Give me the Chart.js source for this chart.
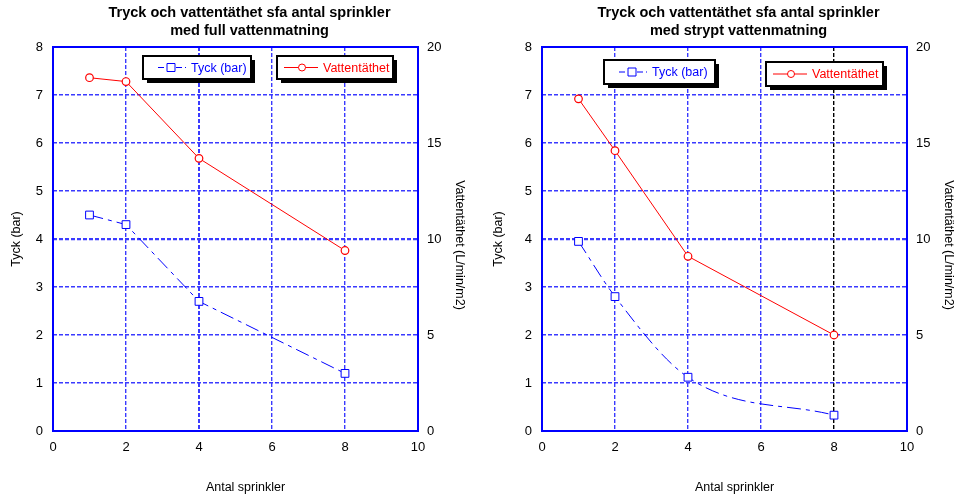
<!DOCTYPE html>
<html>
<head>
<meta charset="utf-8">
<script src="https://cdn.jsdelivr.net/npm/chart.js@4"></script>
<style>
  body { margin: 0; background: #fff; }
  canvas { position: absolute; top: 0; }
  #fullChart { left: 0; }
  #stryptChart { left: 482px; }
</style>
</head>
<body>
<canvas id="fullChart" width="482" height="499"></canvas>
<canvas id="stryptChart" width="483" height="499"></canvas>
<script>
// data
const sprinkler = [1, 2, 4, 8];
const fullTryck = [4.5, 4.3, 2.7, 1.2];
const fullVatten = [18.4, 18.2, 14.2, 9.4];
const stryptTryck = [3.95, 2.8, 1.12, 0.33];
const stryptVatten = [17.3, 14.6, 9.1, 5.0];

const xTicks = [0, 2, 4, 6, 8, 10];
const yTicks = [0, 1, 2, 3, 4, 5, 6, 7, 8];
const y1Ticks = [0, 5, 10, 15, 20];

const FONT = "'Liberation Sans', Arial, sans-serif";
const BLUE = "#0000ff";
const GRID = "#3a3aff";
const RED = "#ff0000";

function pts(xs, ys) {
  return xs.map((x, i) => ({ x: x, y: ys[i] }));
}

// titles, legend boxes, frame
const decorPlugin = {
  id: "decor",
  afterDraw(chart, args, opts) {
    const { ctx, chartArea: a } = chart;
    ctx.save();

    // frame
    ctx.strokeStyle = BLUE;
    ctx.lineWidth = 2;
    ctx.setLineDash([]);
    ctx.strokeRect(a.left, a.top, a.right - a.left, a.bottom - a.top);

    // title
    ctx.fillStyle = "#000";
    ctx.textAlign = "center";
    ctx.textBaseline = "middle";
    ctx.font = "bold 14.5px " + FONT;
    const cx = (a.left + a.right) / 2 + 14;
    ctx.fillText(opts.title[0], cx, 13);
    ctx.fillText(opts.title[1], cx, 31);

    // axis titles
    ctx.font = "12.5px " + FONT;
    ctx.fillText("Antal sprinkler", (a.left + a.right) / 2 + 10, 488);
    const cy = (a.top + a.bottom) / 2;
    ctx.save();
    ctx.translate(17, cy);
    ctx.rotate(-Math.PI / 2);
    ctx.fillText("Tyck (bar)", 0, 0);
    ctx.restore();
    ctx.save();
    ctx.translate(a.right + 41, cy + 6);
    ctx.rotate(Math.PI / 2);
    ctx.fillText("Vattentäthet (L/min/m2)", 0, 0);
    ctx.restore();

    // legend boxes
    opts.legend.forEach(b => {
      ctx.fillStyle = "#000";
      ctx.fillRect(b.x + 4, b.y + 4, b.w, b.h);
      ctx.fillStyle = "#fff";
      ctx.fillRect(b.x, b.y, b.w, b.h);
      ctx.strokeStyle = "#000";
      ctx.lineWidth = 2;
      ctx.strokeRect(b.x, b.y, b.w, b.h);
      const my = b.y + b.h / 2;
      ctx.strokeStyle = b.color;
      ctx.lineWidth = 1;
      ctx.setLineDash(b.dash);
      ctx.beginPath();
      ctx.moveTo(b.x + b.l0, my);
      ctx.lineTo(b.x + b.l1, my);
      ctx.stroke();
      ctx.setLineDash([]);
      ctx.fillStyle = "#fff";
      ctx.beginPath();
      if (b.marker === "rect") ctx.rect(b.x + b.m - 4, my - 4, 8, 8);
      else ctx.arc(b.x + b.m, my, 3.5, 0, Math.PI * 2);
      ctx.fill();
      ctx.stroke();
      ctx.fillStyle = b.color;
      ctx.textAlign = "left";
      ctx.font = "12.5px " + FONT;
      ctx.fillText(b.text, b.x + b.t, my + 1);
    });
    ctx.restore();
  }
};

function makeChart(id, tryck, vatten, cfg) {
  new Chart(document.getElementById(id), {
    type: "line",
    data: {
      datasets: [
        {
          label: "Tyck (bar)",
          data: pts(sprinkler, tryck),
          yAxisID: "y",
          borderColor: BLUE,
          borderWidth: 1,
          borderDash: [14, 5, 4, 5],
          pointStyle: "rect",
          pointRadius: 5.5,
          pointBackgroundColor: "#fff",
          pointBorderColor: BLUE,
          pointBorderWidth: 1,
          cubicInterpolationMode: cfg.smooth ? "monotone" : "default",
          tension: 0
        },
        {
          label: "Vattentäthet",
          data: pts(sprinkler, vatten),
          yAxisID: "y1",
          borderColor: RED,
          borderWidth: 1,
          pointStyle: "circle",
          pointRadius: 3.8,
          pointBackgroundColor: "#fff",
          pointBorderColor: RED,
          pointBorderWidth: 1.2,
          tension: 0
        }
      ]
    },
    options: {
      responsive: false,
      animation: false,
      devicePixelRatio: 1,
      layout: { padding: { top: 47, left: 0, right: 0, bottom: 0 } },
      plugins: {
        legend: { display: false },
        tooltip: { enabled: false },
        decor: { title: cfg.title, legend: cfg.legend }
      },
      scales: {
        x: {
          type: "linear",
          min: 0,
          max: 10,
          afterBuildTicks: s => { s.ticks = xTicks.map(v => ({ value: v })); },
          afterFit: s => { s.height = 68; },
          ticks: { color: "#000", padding: 9, font: { family: FONT, size: 13 } },
          grid: {
            color: c => (c.tick && c.tick.value === cfg.blackX ? "#000" : GRID),
            lineWidth: c => (c.tick && c.tick.value === cfg.boldX ? 2 : 1.4),
            drawTicks: false
          },
          border: { display: false, dash: [4, 2] }
        },
        y: {
          position: "left",
          min: 0,
          max: 8,
          afterBuildTicks: s => { s.ticks = yTicks.map(v => ({ value: v })); },
          afterFit: s => { s.width = cfg.leftW; },
          ticks: { color: "#000", padding: 10, font: { family: FONT, size: 13 } },
          grid: {
            color: GRID,
            lineWidth: c => (c.tick && c.tick.value === 4 ? 2.2 : 1.4),
            drawTicks: false
          },
          border: { display: false, dash: [4, 2] }
        },
        y1: {
          position: "right",
          min: 0,
          max: 20,
          afterBuildTicks: s => { s.ticks = y1Ticks.map(v => ({ value: v })); },
          afterFit: s => { s.width = cfg.rightW; },
          ticks: { color: "#000", padding: 9, font: { family: FONT, size: 13 } },
          grid: { display: false, drawTicks: false },
          border: { display: false }
        }
      }
    },
    plugins: [decorPlugin]
  });
}

makeChart("fullChart", fullTryck, fullVatten, {
  title: ["Tryck och vattentäthet sfa antal sprinkler", "med full vattenmatning"],
  leftW: 53,
  rightW: 64,
  smooth: false,
  blackX: null,
  boldX: 4,
  legend: [
    { x: 143, y: 56, w: 108, h: 23, color: BLUE, dash: [6, 3], marker: "rect", l0: 15, l1: 43, m: 28, t: 48, text: "Tyck (bar)" },
    { x: 277, y: 56, w: 116, h: 23, color: RED, dash: [], marker: "circle", l0: 7, l1: 41, m: 25, t: 46, text: "Vattentäthet" }
  ]
});

makeChart("stryptChart", stryptTryck, stryptVatten, {
  title: ["Tryck och vattentäthet sfa antal sprinkler", "med strypt vattenmatning"],
  leftW: 60,
  rightW: 58,
  smooth: true,
  blackX: 8,
  boldX: null,
  legend: [
    { x: 122, y: 60, w: 111, h: 24, color: BLUE, dash: [6, 3], marker: "rect", l0: 15, l1: 43, m: 28, t: 48, text: "Tyck (bar)" },
    { x: 284, y: 62, w: 117, h: 24, color: RED, dash: [], marker: "circle", l0: 7, l1: 41, m: 25, t: 46, text: "Vattentäthet" }
  ]
});
</script>
</body>
</html>
